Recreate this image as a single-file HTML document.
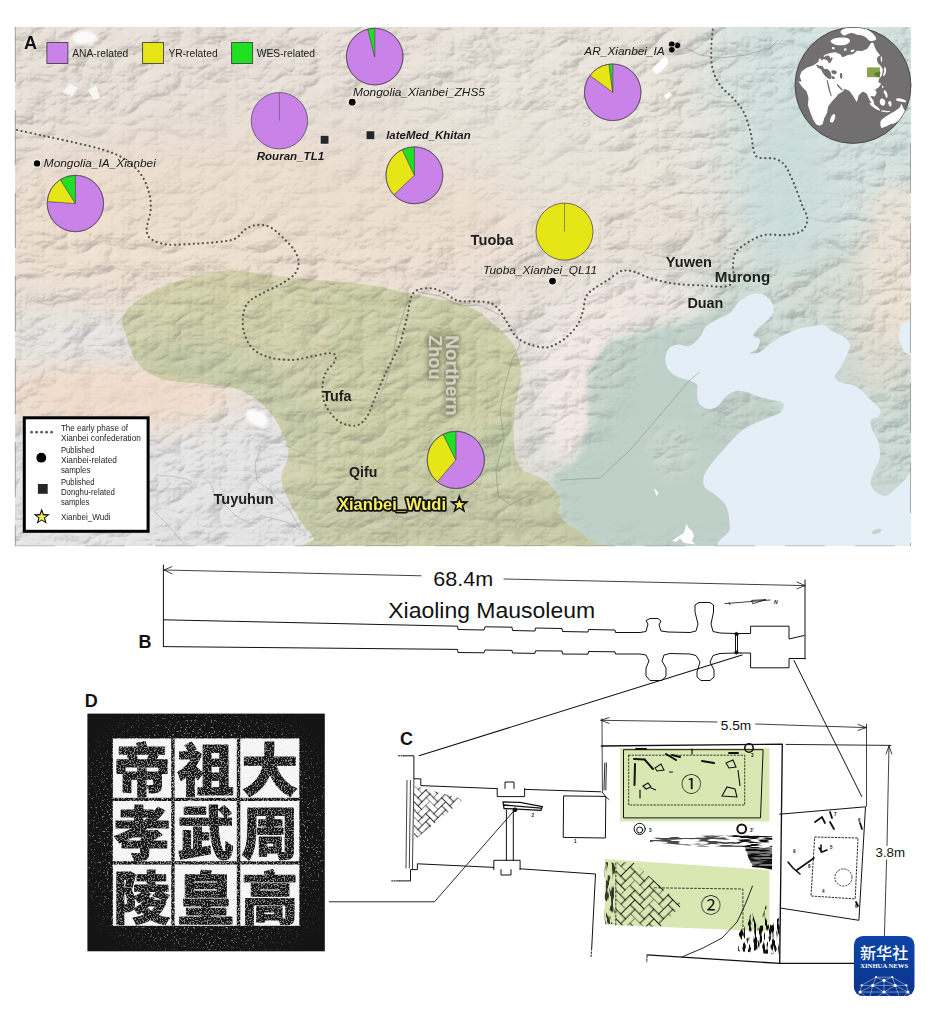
<!DOCTYPE html>
<html lang="en"><head><meta charset="utf-8"><title>Xianbei Wudi figure</title>
<style>
html,body{margin:0;padding:0;background:#fff;}
body{width:934px;height:1016px;position:relative;overflow:hidden;font-family:"Liberation Sans","Noto Sans CJK SC",sans-serif;}
svg{position:absolute;left:0;top:0;display:block}
text{font-family:"Liberation Sans","Noto Sans CJK SC",sans-serif;}
.it{font-style:italic;font-size:11.8px;fill:#1a1a1a}
.bi{font-style:italic;font-weight:bold;font-size:11.6px;fill:#1a1a1a}
.tb{font-weight:bold;font-size:14.5px;fill:#1e1e1e}
.lg{font-size:10.3px;fill:#222}
.ll{font-size:8.2px;fill:#222}
.pl{font-weight:bold;font-size:18px;fill:#111}
</style></head><body>
<svg width="934" height="1016" viewBox="0 0 934 1016">
<defs>
<clipPath id="mc"><rect x="15" y="27" width="896" height="519"/></clipPath>
<filter id="b40" x="-30%" y="-30%" width="160%" height="160%"><feGaussianBlur stdDeviation="28"/></filter>
<filter id="b20" x="-30%" y="-30%" width="160%" height="160%"><feGaussianBlur stdDeviation="14"/></filter>
<filter id="b8" x="-20%" y="-20%" width="140%" height="140%"><feGaussianBlur stdDeviation="6"/></filter>
<filter id="b2" x="-10%" y="-10%" width="120%" height="120%"><feGaussianBlur stdDeviation="1.6"/></filter>
<filter id="relief" x="0" y="0" width="100%" height="100%">
<feTurbulence type="fractalNoise" baseFrequency="0.035 0.06" numOctaves="4" seed="7" result="n"/>
<feDiffuseLighting in="n" surfaceScale="2.2" lighting-color="#fff" result="l"><feDistantLight azimuth="315" elevation="55"/></feDiffuseLighting>
<feColorMatrix in="l" type="matrix" values="1 0 0 0 0  1 0 0 0 0  1 0 0 0 0  0 0 0 1 0"/>
</filter>
</defs>

<defs>
<filter id="rel" x="0" y="0" width="100%" height="100%" color-interpolation-filters="sRGB">
<feTurbulence type="turbulence" baseFrequency="0.022 0.036" numOctaves="5" seed="4" result="n"/>
<feDiffuseLighting in="n" surfaceScale="3.5" diffuseConstant="1" lighting-color="#fff" result="l"><feDistantLight azimuth="225" elevation="45"/></feDiffuseLighting>
<feColorMatrix in="l" type="matrix" values="0 0 0 0 0.35  0 0 0 0 0.36  0 0 0 0 0.38  -2.4 0 0 0 1.70" result="sh"/>
<feColorMatrix in="l" type="matrix" values="0 0 0 0 1  0 0 0 0 1  0 0 0 0 1  3.0 0 0 0 -2.13" result="hi"/>
<feMerge><feMergeNode in="sh"/><feMergeNode in="hi"/></feMerge>
</filter>
<mask id="relm" maskUnits="userSpaceOnUse" x="15" y="27" width="896" height="519">
<rect x="15" y="27" width="896" height="519" fill="#fff"/>
<g filter="url(#b20)" fill="#000">
<ellipse cx="790" cy="185" rx="42" ry="85" opacity="0.8"/>
<path d="M640,345 L700,335 L735,300 L760,320 L700,400 L720,440 L760,420 L790,410 L775,395 L850,340 L870,480 L911,480 L911,546 L570,546 L565,500 L540,480 L590,455 L620,400 Z"/>
<ellipse cx="330" cy="170" rx="300" ry="70" opacity="0.5"/>
<ellipse cx="120" cy="395" rx="95" ry="28" opacity="0.7"/>
</g>
<ellipse cx="672" cy="450" rx="24" ry="26" fill="#fff" opacity="0.8" filter="url(#b8)"/>
</mask>
</defs>
<g clip-path="url(#mc)">
<rect x="15" y="27" width="896" height="519" fill="#e7dfd6"/>
<g filter="url(#b40)">
<ellipse cx="840" cy="130" rx="150" ry="200" fill="#d1e0dd"/>
<ellipse cx="780" cy="420" rx="250" ry="170" fill="#c9d9d3"/>
<ellipse cx="560" cy="150" rx="170" ry="110" fill="#e8e3d9"/>
<ellipse cx="230" cy="225" rx="300" ry="85" fill="#ecddcd"/>
<ellipse cx="640" cy="235" rx="120" ry="40" fill="#ebe0d3" opacity="0.8"/>
</g>
<g filter="url(#b20)">
<ellipse cx="150" cy="500" rx="230" ry="85" fill="#e3e3e3"/>
<ellipse cx="80" cy="340" rx="110" ry="22" fill="#e3e3e1"/>
<ellipse cx="115" cy="398" rx="115" ry="36" fill="#f0dccb"/>
<ellipse cx="290" cy="400" rx="30" ry="40" fill="#e3e3e2" opacity="0.8"/>
<ellipse cx="585" cy="385" rx="52" ry="100" fill="#f2e8e2"/>
<ellipse cx="640" cy="300" rx="70" ry="28" fill="#efe6df"/>
<ellipse cx="880" cy="330" rx="40" ry="70" fill="#dfd9cc" opacity="0.75"/>
<ellipse cx="830" cy="290" rx="60" ry="30" fill="#d6dcd0" opacity="0.7"/>
</g>
<filter id="b3" x="-10%" y="-10%" width="120%" height="120%"><feGaussianBlur stdDeviation="3"/></filter>
<path filter="url(#b3)" fill="#bed0c8" d="M611,340 L640,334 L680,325 L710,317 L735,300 L765,318 L770,400 L790,420 L745,470 L745,552 L590,552 L578,530 L565,522 L559,512 L560,500 L552,486 L556,473 L573,462.5 L580,446 L589.5,420 L587,399 L589.5,368 Z"/>
<ellipse filter="url(#b8)" cx="672" cy="452" rx="28" ry="30" fill="#cddcd5" opacity="0.4"/>
<ellipse filter="url(#b20)" cx="785" cy="190" rx="40" ry="80" fill="#cbdddb"/>
<ellipse filter="url(#b20)" cx="897" cy="265" rx="36" ry="85" fill="#efe2d3" opacity="0.85"/>
<path fill="#c9c99c" fill-opacity="0.80" d="M122.7,319.0 C123.5,313.1 126.5,309.8 132.5,304.7 C138.4,299.6 147.6,293.3 158.4,288.4 C169.2,283.5 185.5,278.5 197.4,275.5 C209.3,272.5 219.1,270.9 229.9,270.6 C240.7,270.3 251.2,272.6 262.0,273.8 C272.8,275.0 281.2,276.6 294.8,278.0 C308.4,279.4 329.3,280.5 343.5,282.0 C357.7,283.5 369.6,285.0 380.0,286.8 C390.4,288.6 397.3,291.1 406.0,293.0 C414.7,294.9 423.3,296.3 432.0,298.0 C440.7,299.7 450.4,300.8 458.0,303.0 C465.6,305.2 471.5,307.5 477.4,311.0 C483.3,314.5 488.2,319.2 493.6,324.0 C499.0,328.8 505.9,334.6 510.0,340.0 C514.1,345.4 516.2,351.1 518.0,356.6 C519.8,362.1 521.0,367.1 521.0,373.0 C521.0,378.9 519.0,385.5 518.0,392.0 C517.0,398.5 515.4,404.4 514.7,412.0 C514.0,419.6 513.6,430.3 513.8,437.8 C514.0,445.3 514.2,451.6 515.7,457.0 C517.2,462.4 519.0,466.7 522.9,470.0 C526.8,473.3 534.1,473.9 539.0,476.7 C543.9,479.4 548.5,482.7 552.0,486.5 C555.5,490.3 558.9,495.2 560.0,499.5 C561.1,503.8 557.8,508.8 558.6,512.5 C559.4,516.2 561.8,519.1 565.0,522.0 C568.2,524.9 574.5,527.3 578.0,530.0 C581.5,532.7 584.0,534.3 586.0,538.0 C588.0,541.7 634.0,549.7 590.0,552.0 C546.0,554.3 368.0,554.3 322.0,552.0 C276.0,549.7 317.4,543.0 314.0,538.0 C310.6,533.0 305.6,528.4 301.3,522.0 C297.0,515.6 291.6,506.0 288.3,499.5 C285.1,493.0 282.6,487.9 281.8,483.0 C281.0,478.1 282.3,474.8 283.4,470.0 C284.5,465.2 288.3,459.9 288.3,454.0 C288.3,448.1 286.1,441.0 283.4,434.5 C280.7,428.0 276.6,420.9 272.0,415.0 C267.4,409.1 261.7,403.1 255.8,398.8 C249.9,394.5 244.5,391.5 236.4,389.0 C228.3,386.5 217.8,385.3 207.0,384.0 C196.2,382.7 181.1,382.9 171.4,381.0 C161.7,379.1 154.6,376.4 148.7,372.9 C142.8,369.4 139.2,365.3 135.7,359.9 C132.2,354.5 129.8,347.2 127.6,340.4 C125.4,333.6 121.9,324.9 122.7,319.0 Z"/>
<clipPath id="olc"><path d="M122.7,319.0 C123.5,313.1 126.5,309.8 132.5,304.7 C138.4,299.6 147.6,293.3 158.4,288.4 C169.2,283.5 185.5,278.5 197.4,275.5 C209.3,272.5 219.1,270.9 229.9,270.6 C240.7,270.3 251.2,272.6 262.0,273.8 C272.8,275.0 281.2,276.6 294.8,278.0 C308.4,279.4 329.3,280.5 343.5,282.0 C357.7,283.5 369.6,285.0 380.0,286.8 C390.4,288.6 397.3,291.1 406.0,293.0 C414.7,294.9 423.3,296.3 432.0,298.0 C440.7,299.7 450.4,300.8 458.0,303.0 C465.6,305.2 471.5,307.5 477.4,311.0 C483.3,314.5 488.2,319.2 493.6,324.0 C499.0,328.8 505.9,334.6 510.0,340.0 C514.1,345.4 516.2,351.1 518.0,356.6 C519.8,362.1 521.0,367.1 521.0,373.0 C521.0,378.9 519.0,385.5 518.0,392.0 C517.0,398.5 515.4,404.4 514.7,412.0 C514.0,419.6 513.6,430.3 513.8,437.8 C514.0,445.3 514.2,451.6 515.7,457.0 C517.2,462.4 519.0,466.7 522.9,470.0 C526.8,473.3 534.1,473.9 539.0,476.7 C543.9,479.4 548.5,482.7 552.0,486.5 C555.5,490.3 558.9,495.2 560.0,499.5 C561.1,503.8 557.8,508.8 558.6,512.5 C559.4,516.2 561.8,519.1 565.0,522.0 C568.2,524.9 574.5,527.3 578.0,530.0 C581.5,532.7 584.0,534.3 586.0,538.0 C588.0,541.7 634.0,549.7 590.0,552.0 C546.0,554.3 368.0,554.3 322.0,552.0 C276.0,549.7 317.4,543.0 314.0,538.0 C310.6,533.0 305.6,528.4 301.3,522.0 C297.0,515.6 291.6,506.0 288.3,499.5 C285.1,493.0 282.6,487.9 281.8,483.0 C281.0,478.1 282.3,474.8 283.4,470.0 C284.5,465.2 288.3,459.9 288.3,454.0 C288.3,448.1 286.1,441.0 283.4,434.5 C280.7,428.0 276.6,420.9 272.0,415.0 C267.4,409.1 261.7,403.1 255.8,398.8 C249.9,394.5 244.5,391.5 236.4,389.0 C228.3,386.5 217.8,385.3 207.0,384.0 C196.2,382.7 181.1,382.9 171.4,381.0 C161.7,379.1 154.6,376.4 148.7,372.9 C142.8,369.4 139.2,365.3 135.7,359.9 C132.2,354.5 129.8,347.2 127.6,340.4 C125.4,333.6 121.9,324.9 122.7,319.0 Z"/></clipPath>
<g clip-path="url(#olc)" filter="url(#b8)" opacity="0.55">
<path d="M135,345 L200,335 L260,360 L300,395 L330,430 L300,460 L280,420 L240,392 L180,380 L140,365 Z" fill="#b9c4a2"/>
<path d="M290,490 L400,485 L560,490 L590,546 L310,546 Z" fill="#bcc4a0"/>
<path d="M470,430 L520,420 L520,480 L480,480 Z" fill="#b7c6a8"/>
<path d="M330,285 L520,300 L530,480 L330,480 Z" fill="#bccb9c" opacity="0.55"/>
</g>
<g mask="url(#relm)"><rect x="15" y="27" width="896" height="519" filter="url(#rel)" opacity="0.29"/></g>
<path fill="#e4eef7" d="M741.9,299.5 C744.4,297.6 747.4,295.2 750.9,294.4 C754.4,293.5 759.4,293.0 762.9,294.4 C766.4,295.7 770.1,299.6 771.9,302.5 C773.6,305.3 774.1,308.5 773.4,311.5 C772.6,314.5 769.9,317.7 767.4,320.5 C764.9,323.2 760.8,325.5 758.4,328.0 C756.1,330.5 753.1,333.5 753.3,335.5 C753.6,337.5 759.3,337.7 759.9,340.0 C760.5,342.2 758.7,346.7 756.9,348.9 C755.2,351.2 748.9,352.9 749.4,353.4 C749.9,353.9 756.7,353.4 759.9,351.9 C763.2,350.4 765.4,346.9 768.9,344.4 C772.4,342.0 776.4,339.5 780.9,337.0 C785.4,334.5 790.9,331.2 795.9,329.5 C800.9,327.7 806.4,327.2 810.9,326.5 C815.4,325.7 819.4,324.2 822.9,325.0 C826.4,325.7 828.3,329.0 831.8,331.0 C835.3,333.0 840.8,334.7 843.8,337.0 C846.8,339.2 849.3,341.5 849.8,344.4 C850.3,347.4 848.3,351.2 846.8,354.9 C845.3,358.7 842.8,363.2 840.8,366.9 C838.8,370.7 834.3,374.7 834.8,377.4 C835.3,380.2 840.8,382.2 843.8,383.4 C846.8,384.7 849.8,383.7 852.8,384.9 C855.8,386.2 858.8,388.4 861.8,390.9 C864.8,393.4 867.8,396.9 870.8,399.9 C873.8,402.9 878.6,406.1 879.8,408.9 C881.1,411.6 879.8,414.6 878.3,416.4 C876.8,418.1 871.8,417.1 870.8,419.4 C869.8,421.6 871.1,426.1 872.3,429.9 C873.6,433.6 877.1,437.4 878.3,441.9 C879.6,446.4 880.6,451.9 879.8,456.9 C879.1,461.9 875.3,467.4 873.8,471.8 C872.3,476.3 870.3,480.3 870.8,483.8 C871.3,487.3 874.3,490.8 876.8,492.8 C879.3,494.8 882.8,496.3 885.8,495.8 C888.8,495.3 891.8,492.3 894.8,489.8 C897.8,487.3 900.8,483.1 903.8,480.8 C906.8,478.6 911.0,464.9 912.8,476.3 C914.5,487.8 944.5,537.5 914.3,549.8 C884.1,562.0 762.2,553.3 731.4,549.8 C700.7,546.3 730.7,535.8 729.9,528.8 C729.2,521.8 729.2,513.3 726.9,507.8 C724.7,502.3 720.2,499.3 716.4,495.8 C712.7,492.3 706.4,490.3 704.4,486.8 C702.5,483.3 703.2,478.8 704.4,474.8 C705.7,470.8 708.9,466.9 711.9,462.9 C714.9,458.9 718.9,454.9 722.4,450.9 C725.9,446.9 729.2,442.6 732.9,438.9 C736.7,435.1 740.4,431.4 744.9,428.4 C749.4,425.4 755.4,422.9 759.9,420.9 C764.4,418.9 768.4,417.9 771.9,416.4 C775.4,414.9 779.0,414.1 780.9,411.9 C782.8,409.6 784.8,404.9 783.3,402.9 C781.8,400.9 775.8,400.9 771.9,399.9 C768.0,398.9 763.9,398.2 759.9,396.9 C755.9,395.7 751.9,393.4 747.9,392.4 C743.9,391.4 739.7,390.2 735.9,390.9 C732.2,391.7 728.4,394.4 725.4,396.9 C722.4,399.4 720.7,403.9 717.9,405.9 C715.2,407.9 711.9,409.1 708.9,408.9 C705.9,408.6 702.0,406.6 700.0,404.4 C698.0,402.2 697.5,398.7 697.0,395.4 C696.5,392.2 698.2,387.4 697.0,384.9 C695.7,382.4 693.0,381.9 689.5,380.4 C686.0,378.9 679.7,378.2 676.0,375.9 C672.2,373.7 668.7,370.2 667.0,366.9 C665.2,363.7 665.0,359.7 665.5,356.4 C666.0,353.2 667.7,349.4 670.0,347.4 C672.2,345.4 675.7,344.7 679.0,344.4 C682.2,344.2 686.0,347.2 689.5,345.9 C693.0,344.7 697.2,340.2 700.0,337.0 C702.7,333.7 702.9,329.5 705.9,326.5 C708.9,323.5 713.9,321.2 717.9,319.0 C721.9,316.7 726.9,315.2 729.9,313.0 C732.9,310.7 733.9,307.7 735.9,305.5 C737.9,303.2 739.4,301.3 741.9,299.5 Z"/>
<ellipse cx="876.6" cy="531.5" rx="5" ry="2.2" transform="rotate(-20 876.6 531.5)" fill="#c4d4cc"/>
<path fill="#e4eef7" d="M900,326 L906,322 L912,321 L912,356 L904,352 L899,340 Z"/>
</g>
<line x1="15.3" y1="27" x2="15.3" y2="546" stroke="#666" stroke-width="0.7" stroke-dasharray="55 28" opacity="0.75"/>
<g fill="none" stroke="#8a8f88" stroke-width="0.7" opacity="0.75" clip-path="url(#mc)">
<path d="M676,52 L686,48 L700,55 L720,58 L745,55 L770,48 L778,40"/>
<path d="M868,27 L872,40 L880,50 L884,62 L895,70 L905,72 L911,80"/>
<path d="M418,292 L440,296 L462,306 L480,305 L500,315 L515,330 L520,345 L512,360 L505,385 L500,410 L504,440 L496,470 L498,495 L510,505 L530,495"/>
<path d="M408,300 L398,330 L392,360 L385,385 L378,398"/>
<path d="M560,480 L600,478 L630,450 L660,415 L690,380 L700,372"/>
<path d="M272,442.8 L259,453.5 L255,464 L257,481 L270,490 L278.5,500.6 L289,509 L300,528.5 L304,532.8" opacity="0.7"/>
<path d="M156.4,475 L170,476 L186.4,479 L191.8,482.4 L189.6,484.6 L182,481.4" opacity="0.7"/>
<path d="M203.5,477 L212,485.7 L214,494 L222,502 L229,509 L235.7,515.6 L250.6,524 L261,515.6 L274,518.8 L287,522 L300,530.6" opacity="0.7"/>
<path d="M154,511 L167,524 L178,537 L184,543.5" opacity="0.7"/>
<path d="M285,445 L297.8,451.4 L312.7,453.5 L327.7,451.4 L334,442.8 L347,440.7 L360,432 L372,420" opacity="0.6"/>
</g>
<g fill="#fdfdfd">
<path d="M651.6,69 L664.7,56.4 L668.4,59.3 L667.5,64.9 L657.2,74.2 L654.4,72.3 Z"/>
<path d="M663.7,95.7 L669.3,92 L672,94.8 L667,99.4 Z"/>
<path d="M245,412 L250,409 L258,410 L265,414 L268.5,421 L266,427 L259,427.5 L251,423 L246,418 Z" filter="url(#b2)" fill="#fbfbfb"/>
<ellipse cx="85" cy="38" rx="12" ry="7" filter="url(#b2)" opacity="0.9"/>
<path d="M62,92 L70,84 L78,88 L72,96 Z M88,90 L96,86 L100,98 L94,100 Z" opacity="0.8"/>
<path d="M654,488 L658.5,492.5 L656.3,496.5 Z M686.5,523.5 L688.5,528 L692,531 L694,536 L692,541 L695.5,544.5 L684,543 L680,538.5 L676,542 L672,541 L678,536.5 L684,533 Z" />
</g>
<path d="M17,130 C21.6,131.0 34.8,133.9 44.5,136 C54.2,138.1 65.7,140.5 75.4,142.8 C85.1,145.1 94.8,147.1 102.8,149.7 C110.8,152.3 117.0,154.2 123.3,158.2 C129.6,162.2 136.2,168.0 140.5,173.7 C144.8,179.4 147.3,186.5 149,192.5 C150.7,198.5 151.0,204.2 150.7,209.6 C150.4,215.0 147.9,221.1 147.3,225 C146.7,228.9 146.2,230.6 147,233 C147.8,235.4 148.5,237.8 152,239.7 C155.5,241.6 160.4,243.9 168,244.6 C175.6,245.2 188.2,244.1 197.4,243.6 C206.6,243.1 216.9,242.3 223.4,241.4 C229.9,240.5 232.8,240.0 236.4,238 C240.0,236.0 241.6,231.7 245,229.5 C248.4,227.3 252.7,225.3 257,225 C261.3,224.7 265.9,225.0 270.6,227.4 C275.3,229.8 281.0,235.8 285,239.7 C289.0,243.6 292.5,247.2 294.8,251 C297.1,254.8 298.7,258.7 298.7,262.5 C298.7,266.3 297.6,270.3 294.8,273.8 C292.0,277.3 287.2,280.4 281.8,283.6 C276.4,286.9 268.0,290.1 262.3,293.3 C256.6,296.5 250.9,298.9 247.7,303 C244.5,307.1 243.4,312.5 242.9,317.7 C242.4,322.9 242.9,328.9 244.5,334 C246.1,339.1 248.5,344.6 252.6,348.5 C256.6,352.4 262.3,355.4 268.8,357.3 C275.3,359.2 284.6,360.0 291.6,359.9 C298.6,359.8 305.1,357.7 311,356.6 C316.9,355.5 323.2,353.7 327.3,353.4 C331.4,353.1 334.3,353.4 335.4,355 C336.5,356.6 335.4,360.0 333.8,363 C332.2,366.0 327.5,368.6 325.6,372.9 C323.7,377.2 322.4,383.6 322.4,389 C322.4,394.4 323.2,400.1 325.6,405.3 C328.0,410.5 332.9,416.6 337,420 C341.1,423.4 346.2,424.8 350,425.5 C353.8,426.2 356.7,425.8 359.7,424 C362.7,422.2 365.2,419.7 367.9,415 C370.6,410.3 373.0,402.6 376,395.6 C379.0,388.6 382.4,379.9 385.7,372.9 C388.9,365.9 392.9,358.8 395.5,353.4 C398.1,348.0 399.0,346.9 401,340.4 C403.0,333.9 406.0,321.5 407.6,314.4 C409.2,307.3 409.2,302.1 410.8,298 C412.4,293.9 413.8,291.6 417.3,290 C420.8,288.4 427.4,287.8 432,288.4 C436.6,288.9 440.7,291.2 445,293.3 C449.3,295.4 453.2,299.5 458,300.8 C462.8,302.1 468.6,301.0 474,301.4 C479.4,301.8 486.1,301.4 490.4,303 C494.7,304.6 497.1,307.5 500,311 C502.9,314.5 505.3,319.7 508,324 C510.7,328.3 512.8,333.6 516.4,337 C520.0,340.4 524.5,342.6 529.4,344.3 C534.3,346.1 541.0,347.6 545.6,347.5 C550.2,347.4 553.2,345.6 557,343.6 C560.8,341.6 564.8,338.8 568.3,335.5 C571.8,332.2 575.5,328.1 578,324 C580.5,319.9 581.7,315.6 583,311 C584.3,306.4 584.1,300.4 586,296.6 C587.9,292.8 590.8,291.1 594.3,288.4 C597.8,285.7 603.0,283.1 607.3,280.3 C611.6,277.5 616.8,273.2 620,271.6 C623.2,270.0 624.4,270.6 626.8,270.6 C629.2,270.6 630.2,270.5 634.3,271.8 C638.4,273.1 644.5,276.6 651.4,278.6 C658.2,280.6 666.8,282.7 675.4,283.8 C684.0,284.9 694.5,285.1 702.8,285.5 C711.1,285.9 719.9,287.4 725,286.5 C730.1,285.6 732.3,283.7 733.6,280.4 C734.9,277.1 732.7,271.2 733,266.6 C733.3,262.0 732.9,257.0 735.3,253 C737.7,249.0 742.4,245.7 747.3,242.7 C752.1,239.7 758.1,236.3 764.4,235 C770.7,233.7 778.7,235.7 785,235 C791.3,234.3 798.3,233.4 802,230.7 C805.7,228.0 807.3,223.0 807.3,218.7 C807.3,214.4 804.3,211.0 802,205 C799.7,199.0 796.4,189.3 793.6,182.7 C790.8,176.1 788.1,169.6 785,165.6 C781.9,161.6 779.0,160.0 774.7,158.7 C770.4,157.4 762.8,158.8 759.3,157.7 C755.8,156.6 755.4,156.1 754,152 C752.6,147.9 752.4,139.6 750.7,133 C749.0,126.4 746.8,118.2 743.9,112.5 C741.0,106.8 737.6,103.4 733.6,98.8 C729.6,94.2 723.5,90.1 720,85 C716.5,79.9 713.9,74.3 712.4,68 C710.9,61.7 711.2,54.2 711.3,47.4 C711.4,40.6 712.7,30.4 713,27" fill="none" stroke="#55554f" stroke-width="2.15" stroke-linecap="round" stroke-dasharray="0.1 4.55"/>
<text x="24" y="48.7" class="pl">A</text>
<rect x="46.9" y="42.5" width="21" height="21" fill="#c982e8" stroke="#444" stroke-width="0.9"/>
<text x="72.2" y="57" class="lg">ANA-related</text>
<rect x="142.6" y="42.5" width="21" height="21" fill="#e6e616" stroke="#444" stroke-width="0.9"/>
<text x="168.4" y="57" class="lg">YR-related</text>
<rect x="231.6" y="42.5" width="21" height="21" fill="#1fe022" stroke="#444" stroke-width="0.9"/>
<text x="256.7" y="57" class="lg">WES-related</text>
<path d="M374.7,56.6 L374.70,28.30 A28.3,28.3 0 1 1 367.85,29.14 Z" fill="#c982e8" stroke="#4a3a50" stroke-width="0.5" stroke-linejoin="round"/>
<path d="M374.7,56.6 L367.85,29.14 A28.3,28.3 0 0 1 374.70,28.30 Z" fill="#1fe022" stroke="#4a3a50" stroke-width="0.5" stroke-linejoin="round"/>
<circle cx="374.7" cy="56.6" r="28.3" fill="none" stroke="#5a4a5e" stroke-width="0.8"/>
<circle cx="279.4" cy="120.7" r="28.2" fill="#c982e8"/>
<circle cx="279.4" cy="120.7" r="28.2" fill="none" stroke="#5a4a5e" stroke-width="0.8"/>
<line x1="279.4" y1="120.7" x2="279.4" y2="92.5" stroke="#5a4a5e" stroke-width="0.6"/>
<path d="M414.4,175.3 L414.40,146.90 A28.4,28.4 0 1 1 393.77,194.81 Z" fill="#c982e8" stroke="#4a3a50" stroke-width="0.5" stroke-linejoin="round"/>
<path d="M414.4,175.3 L393.77,194.81 A28.4,28.4 0 0 1 402.26,149.62 Z" fill="#e6e616" stroke="#4a3a50" stroke-width="0.5" stroke-linejoin="round"/>
<path d="M414.4,175.3 L402.26,149.62 A28.4,28.4 0 0 1 414.40,146.90 Z" fill="#1fe022" stroke="#4a3a50" stroke-width="0.5" stroke-linejoin="round"/>
<circle cx="414.4" cy="175.3" r="28.4" fill="none" stroke="#5a4a5e" stroke-width="0.8"/>
<path d="M75.4,203.5 L75.40,175.30 A28.2,28.2 0 1 1 47.27,201.53 Z" fill="#c982e8" stroke="#4a3a50" stroke-width="0.5" stroke-linejoin="round"/>
<path d="M75.4,203.5 L47.27,201.53 A28.2,28.2 0 0 1 60.46,179.59 Z" fill="#e6e616" stroke="#4a3a50" stroke-width="0.5" stroke-linejoin="round"/>
<path d="M75.4,203.5 L60.46,179.59 A28.2,28.2 0 0 1 75.40,175.30 Z" fill="#1fe022" stroke="#4a3a50" stroke-width="0.5" stroke-linejoin="round"/>
<circle cx="75.4" cy="203.5" r="28.2" fill="none" stroke="#5a4a5e" stroke-width="0.8"/>
<path d="M612.7,92.3 L612.70,64.00 A28.3,28.3 0 1 1 589.98,75.43 Z" fill="#c982e8" stroke="#4a3a50" stroke-width="0.5" stroke-linejoin="round"/>
<path d="M612.7,92.3 L589.98,75.43 A28.3,28.3 0 0 1 608.96,64.25 Z" fill="#e6e616" stroke="#4a3a50" stroke-width="0.5" stroke-linejoin="round"/>
<path d="M612.7,92.3 L608.96,64.25 A28.3,28.3 0 0 1 612.70,64.00 Z" fill="#1fe022" stroke="#4a3a50" stroke-width="0.5" stroke-linejoin="round"/>
<circle cx="612.7" cy="92.3" r="28.3" fill="none" stroke="#5a4a5e" stroke-width="0.8"/>
<circle cx="564.5" cy="231.6" r="28.5" fill="#e6e616"/>
<circle cx="564.5" cy="231.6" r="28.5" fill="none" stroke="#5a4a5e" stroke-width="0.8"/>
<line x1="564.5" y1="231.6" x2="564.5" y2="203.1" stroke="#55551a" stroke-width="0.6"/>
<path d="M455.8,459.9 L455.80,431.30 A28.6,28.6 0 1 1 437.34,481.74 Z" fill="#c982e8" stroke="#4a3a50" stroke-width="0.5" stroke-linejoin="round"/>
<path d="M455.8,459.9 L437.34,481.74 A28.6,28.6 0 0 1 443.08,434.28 Z" fill="#e6e616" stroke="#4a3a50" stroke-width="0.5" stroke-linejoin="round"/>
<path d="M455.8,459.9 L443.08,434.28 A28.6,28.6 0 0 1 455.80,431.30 Z" fill="#1fe022" stroke="#4a3a50" stroke-width="0.5" stroke-linejoin="round"/>
<circle cx="455.8" cy="459.9" r="28.6" fill="none" stroke="#5a4a5e" stroke-width="0.8"/>
<circle cx="352.2" cy="102.2" r="4.3" fill="#fff" opacity="0.85"/><circle cx="352.2" cy="102.2" r="3.4" fill="#000"/>
<circle cx="37" cy="163.4" r="4.1000000000000005" fill="#fff" opacity="0.85"/><circle cx="37" cy="163.4" r="3.2" fill="#000"/>
<circle cx="552.5" cy="281.1" r="4.3" fill="#fff" opacity="0.85"/><circle cx="552.5" cy="281.1" r="3.4" fill="#000"/>
<g stroke="#fff" stroke-width="0.7" fill="#000"><circle cx="677.4" cy="45.4" r="3.3"/><circle cx="671.8" cy="44.3" r="3.3"/><circle cx="671.8" cy="49.8" r="3.3"/></g>
<rect x="320.4" y="135.6" width="8.4" height="8.4" fill="#262626" stroke="#fff" stroke-width="0.6" stroke-opacity="0.7"/>
<rect x="366.2" y="131" width="8.4" height="8.4" fill="#262626" stroke="#fff" stroke-width="0.6" stroke-opacity="0.7"/>
<text x="353" y="96" class="it" textLength="132" lengthAdjust="spacingAndGlyphs">Mongolia_Xianbei_ZHS5</text>
<text x="43.8" y="166.8" class="it" textLength="112" lengthAdjust="spacingAndGlyphs">Mongolia_IA_Xianbei</text>
<text x="584.3" y="55.3" class="it" textLength="80.5" lengthAdjust="spacingAndGlyphs">AR_Xianbei_IA</text>
<text x="483.1" y="273.9" class="it" textLength="114" lengthAdjust="spacingAndGlyphs">Tuoba_Xianbei_QL11</text>
<text x="256.7" y="160" class="bi" textLength="67.5" lengthAdjust="spacingAndGlyphs">Rouran_TL1</text>
<text x="386.2" y="138.8" class="bi" textLength="84.5" lengthAdjust="spacingAndGlyphs">lateMed_Khitan</text>
<text x="470.6" y="244.6" class="tb" textLength="42.8" lengthAdjust="spacingAndGlyphs">Tuoba</text>
<text x="665.8" y="266.7" class="tb" textLength="46.2" lengthAdjust="spacingAndGlyphs">Yuwen</text>
<text x="714.8" y="282" class="tb" textLength="55.5" lengthAdjust="spacingAndGlyphs">Murong</text>
<text x="687.4" y="307.8" class="tb" textLength="36" lengthAdjust="spacingAndGlyphs">Duan</text>
<text x="322.4" y="400.5" class="tb" textLength="29.2" lengthAdjust="spacingAndGlyphs" fill="#2a2a22">Tufa</text>
<text x="349.1" y="476.9" class="tb" textLength="28.3" lengthAdjust="spacingAndGlyphs" fill="#2a2a22">Qifu</text>
<text x="213.6" y="503.7" class="tb" textLength="60" lengthAdjust="spacingAndGlyphs">Tuyuhun</text>
<defs><filter id="glow" x="-20%" y="-50%" width="140%" height="200%"><feGaussianBlur in="SourceAlpha" stdDeviation="2.6" result="b"/><feFlood flood-color="#77775a" flood-opacity="0.95"/><feComposite in2="b" operator="in" result="g"/><feMerge><feMergeNode in="g"/><feMergeNode in="g"/><feMergeNode in="g"/><feMergeNode in="SourceGraphic"/></feMerge></filter></defs>
<g transform="translate(445.9,335.3) rotate(90)" font-weight="bold" font-size="18.6px" fill="#d6d6c6" filter="url(#glow)"><text x="0" y="0" textLength="80.3" lengthAdjust="spacingAndGlyphs">Northern</text><text x="0" y="17.4" textLength="44.2" lengthAdjust="spacingAndGlyphs">Zhou</text></g>
<text x="338" y="510" font-weight="bold" font-size="16.6px" fill="#f6ef63" stroke="#111" stroke-width="3.6" stroke-linejoin="round" paint-order="stroke" textLength="108" lengthAdjust="spacingAndGlyphs">Xianbei_Wudi</text>
<polygon points="459.30,494.10 461.77,501.00 469.10,501.22 463.29,505.70 465.35,512.73 459.30,508.60 453.25,512.73 455.31,505.70 449.50,501.22 456.83,501.00" fill="#111"/>
<polygon points="459.30,499.50 460.65,502.94 464.34,503.16 461.49,505.51 462.42,509.09 459.30,507.10 456.18,509.09 457.11,505.51 454.26,503.16 457.95,502.94" fill="#f4ec55"/>
<rect x="24.3" y="417.8" width="123.8" height="113.5" fill="#fff" stroke="#000" stroke-width="3"/>
<g fill="#5a5a5a"><circle cx="31.6" cy="432.2" r="1.35"/><circle cx="36.6" cy="432.2" r="1.35"/><circle cx="41.6" cy="432.2" r="1.35"/><circle cx="46.6" cy="432.2" r="1.35"/><circle cx="51.6" cy="432.2" r="1.35"/></g>
<circle cx="41.3" cy="457.7" r="4.9" fill="#000"/>
<rect x="37.9" y="484" width="9.8" height="9.8" fill="#262626"/>
<polygon points="41.70,508.30 43.76,514.07 49.88,514.24 45.03,517.98 46.75,523.86 41.70,520.40 36.65,523.86 38.37,517.98 33.52,514.24 39.64,514.07" fill="#111"/>
<polygon points="41.70,511.70 43.05,515.24 46.84,515.43 43.89,517.81 44.87,521.47 41.70,519.40 38.53,521.47 39.51,517.81 36.56,515.43 40.35,515.24" fill="#f4ec55"/>
<text x="60.9" y="430.8" class="ll" textLength="67" lengthAdjust="spacingAndGlyphs">The early phase of</text>
<text x="60.9" y="440.8" class="ll" textLength="80" lengthAdjust="spacingAndGlyphs">Xianbei confederation</text>
<text x="60.9" y="452.8" class="ll" textLength="33.5" lengthAdjust="spacingAndGlyphs">Published</text>
<text x="60.9" y="462.9" class="ll" textLength="56" lengthAdjust="spacingAndGlyphs">Xianbei-related</text>
<text x="60.9" y="472.5" class="ll" textLength="29.5" lengthAdjust="spacingAndGlyphs">samples</text>
<text x="60.9" y="484.8" class="ll" textLength="33.5" lengthAdjust="spacingAndGlyphs">Published</text>
<text x="60.9" y="495" class="ll" textLength="54" lengthAdjust="spacingAndGlyphs">Donghu-related</text>
<text x="60.9" y="504.5" class="ll" textLength="28.5" lengthAdjust="spacingAndGlyphs">samples</text>
<text x="60.9" y="519.6" class="ll" textLength="49.5" lengthAdjust="spacingAndGlyphs">Xianbei_Wudi</text>
<g>
<clipPath id="gc"><circle cx="853" cy="85.4" r="57.7"/></clipPath>
<circle cx="853" cy="85.4" r="58" fill="#716f6f" stroke="#3a3a3a" stroke-width="0.8"/>
<g clip-path="url(#gc)" fill="#fff">
<path d="M801.6,81.6 L799.7,76.5 L801.6,71.5 L806.6,67.7 L813.0,65.4 L815.5,63.9 L818.6,61.6 L821.2,60.9 L823.7,59.1 L826.6,59.9 L828.4,61.6 L830.6,59.1 L829.6,56.3 L827.1,55.3 L824.3,57.1 L823.3,56.1 L826.6,54.0 L831.9,52.8 L835.7,52.3 L840.5,54.6 L842.3,57.3 L845.2,56.3 L847.1,55.3 L853.4,54.0 L856.9,50.8 L862.2,51.0 L867.3,48.7 L869.8,45.0 L871.3,42.7 L873.3,42.7 L874.9,47.5 L876.8,51.3 L880.2,55.3 L877.6,57.1 L876.8,59.1 L877.9,62.9 L881.2,66.4 L882.9,69.6 L882.4,73.0 L881.2,76.5 L878.9,79.1 L878.4,82.2 L881.2,83.8 L878.6,87.6 L875.1,89.6 L876.8,92.6 L874.9,96.4 L871.3,95.9 L873.0,99.0 L874.9,107.0 L870.6,101.7 L868.5,97.7 L866.6,93.4 L864.8,92.6 L862.9,91.4 L858.7,95.2 L856.8,102.2 L853.4,96.4 L849.6,90.9 L844.5,88.8 L843.5,90.9 L837.0,94.9 L831.9,95.9 L837.2,94.2 L837.7,94.9 L836.3,96.7 L831.9,101.5 L828.1,106.5 L827.1,112.8 L824.3,117.9 L822.6,124.2 L819.3,125.7 L816.1,124.2 L813.0,119.2 L810.4,112.8 L807.9,105.3 L808.5,97.7 L806.6,91.4 L801.6,86.3 L798.5,81.5 Z"/>
<path d="M840.7,31.3 C841.3,30.4 842.4,29.2 844.5,28.5 C846.6,27.9 850.0,27.3 853.4,27.3 C856.8,27.3 861.8,27.7 864.8,28.5 C867.7,29.4 869.5,30.8 871.3,32.3 C873.2,33.8 875.2,36.1 875.9,37.4 C876.5,38.7 876.1,39.6 875.1,40.2 C874.1,40.7 871.2,41.2 869.8,40.9 C868.4,40.6 867.9,39.0 866.6,38.1 C865.4,37.2 863.8,36.1 862.2,35.6 C860.6,35.1 858.9,35.3 857.2,34.8 C855.5,34.4 853.6,33.2 852.1,33.1 C850.6,32.9 849.6,33.4 848.3,33.8 C847.1,34.3 845.7,35.6 844.5,35.6 C843.4,35.6 842.1,34.5 841.5,33.8 C840.9,33.1 840.2,32.2 840.7,31.3 Z"/>
<path d="M830.6,41.2 C830.8,40.3 832.5,39.0 834.4,38.4 C836.3,37.8 839.7,37.6 842.0,37.6 C844.3,37.7 847.0,37.9 848.3,38.6 C849.6,39.3 850.3,40.8 849.8,41.8 C849.4,42.8 847.7,44.1 845.8,44.7 C843.9,45.3 840.3,45.4 838.2,45.2 C836.1,45.0 834.4,44.4 833.2,43.7 C831.9,43.0 830.4,42.0 830.6,41.2 Z"/>
<path d="M831.7,47.7 C831.7,47.3 832.9,46.9 833.4,47.0 C833.9,47.1 834.7,47.8 834.7,48.2 C834.6,48.7 833.7,49.6 833.2,49.5 C832.7,49.4 831.6,48.2 831.7,47.7 Z"/>
<path d="M843.9,49.0 C844.1,48.6 845.4,48.1 845.8,48.2 C846.2,48.4 846.7,49.6 846.6,50.0 C846.4,50.4 845.2,50.9 844.8,50.8 C844.3,50.6 843.7,49.4 843.9,49.0 Z"/>
<path d="M850.6,50.8 C850.9,50.3 852.7,49.5 853.4,49.5 C854.0,49.5 854.7,50.3 854.4,50.8 C854.1,51.2 852.2,52.3 851.6,52.3 C851.0,52.3 850.3,51.2 850.6,50.8 Z"/>
<path d="M818.8,59.6 C819.1,59.1 820.1,58.4 820.5,58.6 C821.0,58.8 821.6,60.2 821.5,60.9 C821.5,61.6 820.7,62.7 820.3,62.9 C819.8,63.1 819.0,62.4 818.8,61.9 C818.5,61.3 818.5,60.2 818.8,59.6 Z"/>
<path d="M884.5,66.7 C884.8,66.7 885.8,67.9 886.0,69.0 C886.2,70.0 886.1,71.8 885.7,73.0 C885.4,74.2 884.4,75.7 884.0,76.0 C883.5,76.4 882.9,75.7 882.9,75.0 C883.0,74.3 884.0,73.0 884.2,72.0 C884.4,71.0 883.9,69.8 884.0,69.0 C884.0,68.1 884.1,66.7 884.5,66.7 Z"/>
<path d="M881.2,55.8 C881.4,55.8 882.1,58.0 882.2,59.1 C882.3,60.2 881.9,62.6 881.7,62.6 C881.4,62.6 880.8,60.2 880.7,59.1 C880.6,58.0 880.9,55.8 881.2,55.8 Z"/>
<path d="M882.4,85.6 C882.7,85.6 883.4,86.6 883.5,87.1 C883.5,87.5 882.9,88.4 882.7,88.3 C882.4,88.3 882.0,87.3 881.9,86.8 C881.9,86.4 882.2,85.5 882.4,85.6 Z"/>
<path d="M884.0,90.4 C884.3,90.1 885.6,90.4 886.2,91.4 C886.9,92.3 887.7,95.1 887.7,96.2 C887.7,97.2 886.7,97.9 886.2,97.7 C885.8,97.5 885.6,95.7 885.2,94.9 C884.8,94.2 884.2,93.9 884.0,93.1 C883.7,92.4 883.6,90.7 884.0,90.4 Z"/>
<path d="M880.2,99.7 C880.7,99.0 882.1,98.4 882.9,98.7 C883.8,99.0 885.0,100.2 885.2,101.2 C885.5,102.3 885.1,104.3 884.5,105.0 C883.9,105.7 882.4,105.6 881.7,105.3 C880.9,104.9 880.2,103.7 879.9,102.7 C879.7,101.8 879.7,100.4 880.2,99.7 Z"/>
<path d="M869.8,102.7 C870.1,102.5 871.3,102.8 872.6,103.5 C873.8,104.2 876.1,105.9 877.4,107.0 C878.6,108.1 880.0,109.5 880.2,110.1 C880.3,110.6 879.4,110.7 878.4,110.3 C877.4,110.0 875.7,108.9 874.4,108.0 C873.0,107.2 871.3,105.9 870.6,105.0 C869.8,104.1 869.5,103.0 869.8,102.7 Z"/>
<path d="M881.2,110.6 C881.8,110.4 884.7,110.7 886.2,110.8 C887.7,111.0 890.1,111.3 890.3,111.6 C890.5,111.8 888.8,112.3 887.5,112.3 C886.2,112.4 883.5,112.1 882.4,111.8 C881.4,111.5 880.5,110.7 881.2,110.6 Z"/>
<path d="M888.3,101.7 C888.6,101.2 890.2,101.0 890.8,101.5 C891.3,102.0 891.6,103.9 891.5,104.8 C891.5,105.6 890.7,106.8 890.3,106.8 C889.8,106.8 889.1,105.6 888.8,104.8 C888.4,103.9 887.9,102.3 888.3,101.7 Z"/>
<path d="M896.1,99.0 C896.5,98.5 898.6,98.2 900.1,98.4 C901.6,98.7 904.3,99.6 905.2,100.2 C906.1,100.8 906.3,102.0 905.7,102.2 C905.1,102.5 902.8,101.9 901.4,101.7 C900.0,101.5 898.2,101.4 897.3,101.0 C896.5,100.5 895.6,99.4 896.1,99.0 Z"/>
<path d="M881.2,127.5 C880.5,126.5 879.9,122.7 880.9,120.7 C882.0,118.7 885.1,117.0 887.5,115.4 C889.9,113.8 893.0,112.4 895.1,111.1 C897.1,109.7 898.8,108.5 899.9,107.3 C900.9,106.1 900.8,103.8 901.4,104.0 C902.0,104.3 902.9,107.4 903.7,108.8 C904.4,110.2 906.2,110.9 905.7,112.6 C905.1,114.3 902.1,117.4 900.4,119.2 C898.6,120.9 896.8,122.1 895.1,123.0 C893.3,123.8 891.7,123.8 890.0,124.5 C888.4,125.1 886.7,126.2 885.2,126.7 C883.7,127.3 881.9,128.5 881.2,127.5 Z"/>
<path d="M830.0,120.4 C830.1,119.3 831.2,116.7 831.9,115.6 C832.6,114.6 833.9,113.8 834.4,114.1 C835.0,114.4 835.4,116.1 835.2,117.4 C835.0,118.7 833.9,120.9 833.3,121.7 C832.6,122.5 831.8,122.7 831.3,122.5 C830.7,122.2 829.9,121.6 830.0,120.4 Z"/>
</g>
<g clip-path="url(#gc)" fill="#716f6f">
<path d="M816.2,64.7 C816.4,64.3 818.2,65.4 819.3,65.7 C820.3,65.9 821.7,65.6 822.6,66.2 C823.4,66.7 823.6,68.5 824.3,69.0 C825.1,69.4 826.1,68.5 827.1,69.0 C828.1,69.4 829.4,70.6 830.1,71.7 C830.8,72.8 831.3,74.3 831.4,75.5 C831.5,76.7 831.5,78.3 830.9,78.8 C830.3,79.3 828.8,78.8 827.9,78.3 C826.9,77.8 825.9,76.9 825.1,76.0 C824.2,75.1 823.5,74.1 822.8,73.0 C822.1,71.9 821.8,70.3 821.0,69.5 C820.2,68.6 818.8,68.5 818.0,67.7 C817.2,66.9 816.0,65.0 816.2,64.7 Z"/>
<path d="M831.4,71.0 C831.7,70.4 833.3,70.1 834.2,70.2 C835.1,70.3 836.5,71.1 836.7,71.7 C837.0,72.4 836.4,73.7 835.7,74.0 C835.0,74.3 833.4,74.3 832.7,73.8 C831.9,73.3 831.1,71.6 831.4,71.0 Z"/>
<path d="M840.0,73.5 C840.2,72.8 841.4,72.8 841.8,73.3 C842.1,73.7 842.3,75.4 842.3,76.3 C842.3,77.2 842.1,78.6 841.8,78.8 C841.4,79.0 840.5,78.4 840.2,77.5 C839.9,76.7 839.7,74.2 840.0,73.5 Z"/>
<path d="M831.9,76.3 C832.4,76.0 834.3,76.6 834.7,77.0 C835.1,77.5 834.6,78.8 834.2,79.1 C833.7,79.3 832.3,79.0 831.9,78.6 C831.5,78.1 831.4,76.5 831.9,76.3 Z"/>
<path d="M827.6,80.0 L828.9,85.1 L830.6,92.1 L831.9,96.2 L830.9,96.2 L829.1,91.4 L827.6,85.6 L826.6,80.8 Z"/>
<path d="M836.7,83.8 L838.5,85.1 L841.0,87.8 L843.3,90.6 L841.8,90.4 L839.0,87.8 L837.0,85.6 Z"/>
<path d="M828.1,61.9 C828.2,61.2 829.6,59.8 830.1,59.1 C830.7,58.4 831.0,57.7 831.4,57.6 C831.8,57.5 832.6,57.9 832.7,58.3 C832.7,58.8 832.1,59.6 831.7,60.4 C831.2,61.1 830.5,62.6 829.9,62.9 C829.3,63.1 828.1,62.5 828.1,61.9 Z"/>
<path d="M870.6,96.2 C870.6,95.8 872.1,96.3 872.6,96.9 C873.1,97.6 873.6,99.6 873.6,100.0 C873.6,100.3 872.8,99.6 872.3,99.0 C871.8,98.3 870.5,96.5 870.6,96.2 Z"/>
<path d="M877.9,71.5 C878.1,70.9 879.0,70.2 879.4,70.5 C879.8,70.7 880.5,72.2 880.4,73.0 C880.4,73.8 879.5,74.9 879.2,75.0 C878.8,75.1 878.4,74.3 878.1,73.8 C877.9,73.2 877.7,72.0 877.9,71.5 Z"/>
</g>
<rect x="867" y="67.4" width="12.9" height="9.8" fill="#8aa24a"/>
<path d="M873.5,73.6 L879.9,71.2 L879.9,77.2 L877.2,77.2 Z" fill="#5f7a35"/>
</g>
<line x1="910.6" y1="143" x2="910.6" y2="546" stroke="#777" stroke-width="0.8" stroke-dasharray="50 30" opacity="0.8"/>
<line x1="15" y1="545.8" x2="911" y2="545.8" stroke="#888" stroke-width="0.7" stroke-dasharray="40 30" opacity="0.7"/>
<g fill="none" stroke="#111" stroke-width="1" stroke-linejoin="round" stroke-linecap="round">
<path d="M163.4,565 L163.4,646.6"/>
<path d="M164,570 L421,575.8 M164,570 L172,566.6 M164,570 L172,573.8" stroke-width="0.8"/>
<path d="M504,579 L805,585.6 M805,585.6 L797,582 M805,585.6 L797,588.8" stroke-width="0.8"/>
<path d="M805,580 L805,659"/>
<path d="M163.4,619.8 L457.6,626.2 L458,629.5 L484,630 L485,626.8 L512,627.2 L512.5,630.5 L535,631 L535.5,628 L562,628.5 L562.5,631.5 L588,632 L588.5,629.5 L615,630 L615.5,632.5 L640,632.5 L646,631.5 L648,624 L646,620.5 L650,618.5 L658,618.5 L661,621 L659,625 L661,631 L668,632 L690,632.5 L696,631 L698,624 L695,612 L695,605 L699,602.5 L710,602.5 L713.5,605 L713.5,612 L711,624 L713,631.5 L720,633 L735,633.5"/>
<path d="M163.4,646.6 L457.6,649.4 L458,652.5 L484,652.8 L485,650 L512,650.4 L512.5,653 L535,653.4 L535.5,650.8 L562,651 L562.5,654 L588,654.2 L588.5,651.5 L615,651.8 L615.5,654 L640,654 L646,655 L649,661 L646,668 L646,676 L650,680.5 L662,680.5 L666,676 L666,668 L662,661 L664,655 L670,653.5 L690,654 L696,655.5 L700,662 L697,672 L697,677 L701,680.5 L710,680.5 L714,677 L714,670 L710,662 L713,655.5 L720,653.5 L735,653"/>
<path d="M735,633.5 L741,633.5 M735,653 L741,653 M735.5,633.5 L735.5,653 M737.5,633.5 L737.5,653"/>
<circle cx="736.5" cy="634" r="1.6" fill="#111"/><circle cx="736.5" cy="652.5" r="1.6" fill="#111"/>
<path d="M741,633.5 L750.6,633.5 L750.6,626.2 L789,626.2 L789,639 L804,635.5 M741,653 L750.6,653 L750.6,667.8 L789,667.8 L789,658.5 L805,658.5"/>
<path d="M725,603.6 L770,600 M752,600.4 L766,599.6 L753,603.6 Z M729,602.4 L730,604.6" stroke-width="0.8"/>
<path d="M742,655 L419,755.8" stroke-width="1.1"/>
<path d="M794,660.5 L861.7,796.5" stroke-width="1"/>
</g>
<text x="774" y="604" font-size="5px" font-weight="bold" font-style="italic" fill="#111">N</text>
<text x="433.2" y="585.5" font-size="20.5px" fill="#111" textLength="60" lengthAdjust="spacingAndGlyphs">68.4m</text>
<text x="388.2" y="617.7" font-size="21.6px" fill="#111" textLength="207" lengthAdjust="spacingAndGlyphs">Xiaoling Mausoleum</text>
<text x="138.4" y="647.6" class="pl">B</text>
<text x="400" y="744.6" class="pl">C</text>
<text x="84.8" y="707" class="pl">D</text>
<defs>
<pattern id="hb" width="22.40" height="22.40" patternUnits="userSpaceOnUse" patternTransform="translate(414,786) rotate(45)"><path d="M0.00,5.60 H5.60 M5.60,5.60 V11.20 M5.60,11.20 V16.80 M0.00,16.80 H5.60 M5.60,16.80 V22.40 M0.00,22.40 H5.60 M11.20,0.00 V5.60 M5.60,5.60 H11.20 M5.60,11.20 H11.20 M11.20,11.20 V16.80 M11.20,16.80 V22.40 M5.60,22.40 H11.20 M16.80,0.00 V5.60 M11.20,5.60 H16.80 M16.80,5.60 V11.20 M11.20,11.20 H16.80 M11.20,16.80 H16.80 M16.80,16.80 V22.40 M22.40,0.00 V5.60 M22.40,5.60 V11.20 M16.80,11.20 H22.40 M22.40,11.20 V16.80 M16.80,16.80 H22.40 M16.80,22.40 H22.40" fill="none" stroke="#111" stroke-width="0.85" stroke-linecap="square"/></pattern>
<pattern id="hb2" width="26.80" height="26.80" patternUnits="userSpaceOnUse" patternTransform="translate(616,862) rotate(45)"><path d="M0.00,6.70 H6.70 M6.70,6.70 V13.40 M6.70,13.40 V20.10 M0.00,20.10 H6.70 M6.70,20.10 V26.80 M0.00,26.80 H6.70 M13.40,0.00 V6.70 M6.70,6.70 H13.40 M6.70,13.40 H13.40 M13.40,13.40 V20.10 M13.40,20.10 V26.80 M6.70,26.80 H13.40 M20.10,0.00 V6.70 M13.40,6.70 H20.10 M20.10,6.70 V13.40 M13.40,13.40 H20.10 M13.40,20.10 H20.10 M20.10,20.10 V26.80 M26.80,0.00 V6.70 M26.80,6.70 V13.40 M20.10,13.40 H26.80 M26.80,13.40 V20.10 M20.10,20.10 H26.80 M20.10,26.80 H26.80" fill="none" stroke="#111" stroke-width="0.9" stroke-linecap="square"/></pattern>
<filter id="rough" x="-5%" y="-5%" width="110%" height="110%"><feTurbulence type="fractalNoise" baseFrequency="0.35 0.08" numOctaves="2" seed="3" result="t"/><feColorMatrix in="t" type="matrix" values="0 0 0 0 0  0 0 0 0 0  0 0 0 0 0  0 0 0 -9 4.6" result="m"/><feComposite in="SourceGraphic" in2="m" operator="in"/></filter>
<filter id="roughh" x="-5%" y="-5%" width="110%" height="110%"><feTurbulence type="fractalNoise" baseFrequency="0.05 0.5" numOctaves="2" seed="8" result="t"/><feColorMatrix in="t" type="matrix" values="0 0 0 0 0  0 0 0 0 0  0 0 0 0 0  0 0 0 -9 4.9" result="m"/><feComposite in="SourceGraphic" in2="m" operator="in"/></filter>
</defs>
<path d="M620.2,747.9 L769.4,747.9 L769.4,821.5 L620.2,821.5 Z" fill="#d9e8b2"/>
<path d="M604.7,859.1 L769.4,870.2 L769.4,931.3 L604.7,924.7 Z" fill="#d9e8b2"/>
<g fill="none" stroke="#111" stroke-width="1" stroke-linejoin="round" stroke-linecap="round">
<path d="M398.5,755.8 L403.7,755.8" stroke-dasharray="1.2 1.2"/>
<path d="M403.7,755.8 L413.9,755.8 L413.9,778.8 L420.8,778.8 L420.8,785.6 L497,788.6"/>
<path d="M524.6,789.4 L600.6,791.8"/>
<path d="M391.7,880.9 L399,880.9" stroke-dasharray="1.2 1.2"/>
<path d="M399,880.9 L410.5,880.9 L410.5,869.6 L417.4,869.6 L417.4,863.8 L493.8,867.4 M520.1,868.8 L595.5,874 L591.6,950"/>
<path d="M591.4,952 L591,957" stroke-dasharray="1.5 1.5"/>
<path d="M407,780.5 L406,868 M410.5,780.5 L409.3,868 M413.9,778.8 L412.4,869" stroke-width="0.8"/>
<path d="M414,785.8 L463.6,799.3 L414,840.5 Z" fill="url(#hb)" stroke="none"/>
<path d="M497.2,788.4 L497.2,796.6 L524.6,796.6 L524.6,788.4 M505,788.4 L505,782 L514,782 L514,788.4" />
<path d="M493.8,869.6 L493.8,860.3 L520.1,860.3 L520.1,869.6 M501,869.6 L501,875 L511,875 L511,869.6"/>
<path d="M506.4,810 L506.4,860.3 M513.3,810 L513.3,860.3"/>
<path d="M503,802 L520,802.4 L542.4,806.6 L541,810.3 L504,808.5 Z M504,805 L541,808.2" stroke-width="1.3"/>
<circle cx="515" cy="809.8" r="1.9" fill="#111"/>
<path d="M564,795.9 L605.8,796.4 L605.4,838 L563.6,837.4 Z"/>
<path d="M329.3,901.8 L434.5,901.8 L515,809.6" stroke-width="0.9"/>
<path d="M602,718.8 L602.4,792.5 M601,720.3 L717,722 M601,720.3 L609,717.6 M601,720.3 L609,723.4 M755.7,724 L866.2,727.6 M866.2,727.6 L858,724.4 M866.2,727.6 L858,730.4 M866.5,724 L866.5,806.3" stroke-width="0.8"/>
<path d="M602.4,792.5 L606,797 L609,799.5 M604.8,763 L604,790 M606.4,763 L605.8,790" stroke-width="0.9"/>
<path d="M601.4,746 L782.3,744.2 L779.7,963.4 M647.1,954.9 L779.7,963.4 L855,963.4" stroke-width="1.35"/>
<path d="M786,744.4 L891,745.4" stroke-width="0.9"/>
<path d="M647,956 L646.8,962" stroke-dasharray="1.5 1.5"/>
<path d="M889,746 L887,845.5 M886.6,860 L884.4,936 M889,746 L886,754 M889,746 L891.8,754" stroke-width="0.8"/>
<path d="M623.9,749.7 L763.1,749.7 L760.5,817.9 L623.9,817.9 Z" stroke-width="1"/>
<path d="M628.7,755.2 L744.7,755.2 L744.7,805 L628.7,805 Z" stroke-width="0.8" stroke-dasharray="1.6 1.8"/>
<path d="M654.5,887.8 L742.9,889 L742.9,930" stroke-width="0.8" stroke-dasharray="2 2"/>
<path d="M615.8,863 L615.8,925" stroke-width="0.8" stroke-dasharray="2 2"/>
<path d="M752.5,886 L745,905 L737,922 L722,938 L703,948 L682,957" stroke-width="0.9"/>
<circle cx="639.7" cy="828.9" r="5.6"/><circle cx="639.7" cy="830" r="3"/><circle cx="741.7" cy="828.9" r="4.4" stroke-width="2"/>
<path d="M779.7,814.2 L865.5,806.8 L858.9,920.3 L780.8,908.1"/>
<path d="M814.7,837 L858,838 L855.2,898.9 L811,896 Z" stroke-width="0.9" stroke-dasharray="1.6 1.8"/>
<circle cx="843.4" cy="877.5" r="8.6" stroke-width="0.8" stroke-dasharray="1.4 1.8"/>
</g>
<path d="M615.8,862 L634,863 L682,905 L660,927 L615.8,925 Z" fill="url(#hb2)"/>
<g fill="#111">
<path filter="url(#roughh)" d="M724,834 L772.3,836.3 L772,869.4 L752,867 L744.7,848 Z"/>
<path d="M744.7,847 L772,848 L772,869 L753,867 Z" opacity="0.55"/>
<path filter="url(#roughh)" d="M650,838 L722,835 L744,847 L700,846.5 L650,842 Z" opacity="0.75"/>
<path filter="url(#rough)" d="M738,935 L752,912 L758,930 L766,905 L770,925 L779.7,917 L779.7,955 L737,951 Z"/>
<path filter="url(#rough)" d="M604.7,862 L615,863 L615,924 L604.7,924 Z" opacity="0.8"/>
</g>
<g fill="none" stroke="#111" stroke-width="2" stroke-linecap="round">
<path d="M636,749 L646,749 M634,759 L645,759.5 M645,760 L653,769 M666,754 L676,760 M672,755 L680,757 M702,761 L714,763 M729,753 L738,753 M635,764 L634.5,785"/>
<path d="M640,798 L640,790 M692,749 L692,754" stroke-width="1.2"/>
</g>
<g fill="none" stroke="#111" stroke-width="1.1">
<path d="M655,768 L661,764 L664,770 L657,771 Z M669,772 L673,772 M643,786 L648,783 L651,787 L646,789 Z M651,788 L656,790 M726,763 L733,760 L736,767 L729,768 Z M722,796 L727,787 L735,789 L737,797 Z M738,770 L740,786" />
<circle cx="749" cy="748" r="4.2" stroke-width="1.6"/>
</g>
<g fill="none" stroke="#111" stroke-width="1.6" stroke-linecap="round">
<path d="M797,870 L814,858 M788,862 L793,868 L800,874 M819,848 L822,852 L827,850 M821,845 L821,852" />
<path d="M815,822 L822,817 L825,823 M830,822 L834,829 M860,823 L862,829 M856,902 L858,906 M832,818 L830,812" stroke-width="1.8"/>
</g>
<text x="720.8" y="729.5" font-size="13px" fill="#111" textLength="30.5" lengthAdjust="spacingAndGlyphs">5.5m</text>
<text x="875.5" y="856.5" font-size="13px" fill="#111" textLength="29.5" lengthAdjust="spacingAndGlyphs">3.8m</text>
<text x="691.3" y="791.6" font-size="20.5px" fill="#111" text-anchor="middle" font-family="'Liberation Sans','DejaVu Sans','Noto Sans CJK SC',sans-serif">①</text>
<text x="710.8" y="913.4" font-size="20.5px" fill="#111" text-anchor="middle" font-family="'Liberation Sans','DejaVu Sans','Noto Sans CJK SC',sans-serif">②</text>
<g font-size="4.5px" font-weight="bold" fill="#111"><text x="531.5" y="816.5">2</text><text x="574" y="843">1</text><text x="649" y="832">3</text><text x="750" y="832">3'</text><text x="751" y="757">3</text><text x="822" y="893">4</text><text x="830" y="849">5</text><text x="808" y="868">8</text><text x="855" y="908">6</text><text x="858" y="822">6</text><text x="834" y="816">7</text><text x="793" y="853">9</text></g>
<defs>
<filter id="speck" x="0" y="0" width="100%" height="100%"><feTurbulence type="fractalNoise" baseFrequency="0.55" numOctaves="3" seed="11" result="t"/><feColorMatrix in="t" type="matrix" values="0 0 0 0 1  0 0 0 0 1  0 0 0 0 1  0 0 0 7 -4.3"/></filter>
<filter id="speck2" x="0" y="0" width="100%" height="100%"><feTurbulence type="fractalNoise" baseFrequency="0.7" numOctaves="2" seed="5" result="t"/><feColorMatrix in="t" type="matrix" values="0 0 0 0 1  0 0 0 0 1  0 0 0 0 1  0 0 0 9 -4.6"/></filter>
<radialGradient id="dg" cx="50%" cy="50%" r="50%"><stop offset="0.55" stop-color="#fff" stop-opacity="1"/><stop offset="1" stop-color="#fff" stop-opacity="0"/></radialGradient>
<mask id="dm"><ellipse cx="206" cy="832" rx="150" ry="150" fill="url(#dg)"/></mask>
<clipPath id="dclip"><rect x="87.4" y="713.6" width="237.4" height="237.7"/></clipPath>
</defs>
<rect x="87.4" y="713.6" width="237.4" height="237.7" fill="#141414"/>
<g clip-path="url(#dclip)"><rect x="87.4" y="713.6" width="237.4" height="237.7" filter="url(#speck)" mask="url(#dm)" opacity="0.68"/></g>
<rect x="112.9" y="738.5" width="58.3" height="59.3" fill="#f4f4f4"/>
<text x="142.1" y="790.8" text-anchor="middle" font-size="57px" font-weight="900" fill="#161616" stroke="#161616" stroke-width="0.9" stroke-linejoin="round" style="font-family:'Liberation Sans','Noto Sans CJK SC','Noto Sans CJK JP',sans-serif">帝</text>
<rect x="174.6" y="738.5" width="62.2" height="59.3" fill="#f4f4f4"/>
<text x="205.7" y="790.8" text-anchor="middle" font-size="57px" font-weight="900" fill="#161616" stroke="#161616" stroke-width="0.9" stroke-linejoin="round" style="font-family:'Liberation Sans','Noto Sans CJK SC','Noto Sans CJK JP',sans-serif">祖</text>
<rect x="240.3" y="738.5" width="59.0" height="59.3" fill="#f4f4f4"/>
<text x="269.8" y="790.8" text-anchor="middle" font-size="57px" font-weight="900" fill="#161616" stroke="#161616" stroke-width="0.9" stroke-linejoin="round" style="font-family:'Liberation Sans','Noto Sans CJK SC','Noto Sans CJK JP',sans-serif">大</text>
<rect x="112.9" y="801.0" width="58.3" height="60.2" fill="#f4f4f4"/>
<text x="142.1" y="854.2" text-anchor="middle" font-size="57px" font-weight="900" fill="#161616" stroke="#161616" stroke-width="0.9" stroke-linejoin="round" style="font-family:'Liberation Sans','Noto Sans CJK SC','Noto Sans CJK JP',sans-serif">孝</text>
<rect x="174.6" y="801.0" width="62.2" height="60.2" fill="#f4f4f4"/>
<text x="205.7" y="854.2" text-anchor="middle" font-size="57px" font-weight="900" fill="#161616" stroke="#161616" stroke-width="0.9" stroke-linejoin="round" style="font-family:'Liberation Sans','Noto Sans CJK SC','Noto Sans CJK JP',sans-serif">武</text>
<rect x="240.3" y="801.0" width="59.0" height="60.2" fill="#f4f4f4"/>
<text x="269.8" y="854.2" text-anchor="middle" font-size="57px" font-weight="900" fill="#161616" stroke="#161616" stroke-width="0.9" stroke-linejoin="round" style="font-family:'Liberation Sans','Noto Sans CJK SC','Noto Sans CJK JP',sans-serif">周</text>
<rect x="112.9" y="864.6" width="58.3" height="61.2" fill="#f4f4f4"/>
<text x="142.1" y="918.8" text-anchor="middle" font-size="57px" font-weight="900" fill="#161616" stroke="#161616" stroke-width="0.9" stroke-linejoin="round" style="font-family:'Liberation Sans','Noto Sans CJK SC','Noto Sans CJK JP',sans-serif">陵</text>
<rect x="174.6" y="864.6" width="62.2" height="61.2" fill="#f4f4f4"/>
<text x="205.7" y="918.8" text-anchor="middle" font-size="57px" font-weight="900" fill="#161616" stroke="#161616" stroke-width="0.9" stroke-linejoin="round" style="font-family:'Liberation Sans','Noto Sans CJK SC','Noto Sans CJK JP',sans-serif">皇</text>
<rect x="240.3" y="864.6" width="59.0" height="61.2" fill="#f4f4f4"/>
<text x="269.8" y="918.8" text-anchor="middle" font-size="57px" font-weight="900" fill="#161616" stroke="#161616" stroke-width="0.9" stroke-linejoin="round" style="font-family:'Liberation Sans','Noto Sans CJK SC','Noto Sans CJK JP',sans-serif">高</text>
<g clip-path="url(#dclip)"><rect x="112.9" y="738.5" width="186.4" height="187.3" filter="url(#speck2)" opacity="0.5"/></g>
<defs><linearGradient id="xg" x1="0" y1="0" x2="0" y2="1"><stop offset="0" stop-color="#0c45a6"/><stop offset="1" stop-color="#0a348a"/></linearGradient><clipPath id="xc"><rect x="853.9" y="935.9" width="60.6" height="60.2" rx="9" ry="9"/></clipPath></defs>
<rect x="853.9" y="935.9" width="60.6" height="60.2" rx="9" ry="9" fill="url(#xg)"/>
<text x="884.2" y="958.6" text-anchor="middle" font-size="16px" font-weight="500" fill="#fff" textLength="48.5" lengthAdjust="spacingAndGlyphs" style="font-family:'Liberation Sans','Noto Sans CJK SC',sans-serif">新华社</text>
<text x="884.2" y="967.6" text-anchor="middle" font-size="5.9px" font-weight="bold" fill="#fff" textLength="48" lengthAdjust="spacingAndGlyphs" style="font-family:'Liberation Serif',serif">XINHUA NEWS</text>
<g clip-path="url(#xc)" stroke="#fff" stroke-width="0.45" opacity="0.95">
<line x1="876.0" y1="977.2" x2="892.3" y2="977.2"/>
<line x1="876.0" y1="977.2" x2="884.0" y2="980.4"/>
<line x1="892.3" y1="977.2" x2="884.0" y2="980.4"/>
<line x1="876.0" y1="977.2" x2="861.6" y2="985.4"/>
<line x1="876.0" y1="977.2" x2="872.7" y2="985.4"/>
<line x1="892.3" y1="977.2" x2="895.2" y2="985.4"/>
<line x1="892.3" y1="977.2" x2="906.4" y2="985.4"/>
<line x1="884.0" y1="980.4" x2="872.7" y2="985.4"/>
<line x1="884.0" y1="980.4" x2="895.2" y2="985.4"/>
<line x1="884.0" y1="980.4" x2="884.0" y2="992.0"/>
<line x1="861.6" y1="985.4" x2="872.7" y2="985.4"/>
<line x1="872.7" y1="985.4" x2="895.2" y2="985.4"/>
<line x1="895.2" y1="985.4" x2="906.4" y2="985.4"/>
<line x1="861.6" y1="985.4" x2="860.1" y2="992.0"/>
<line x1="872.7" y1="985.4" x2="860.1" y2="992.0"/>
<line x1="872.7" y1="985.4" x2="884.0" y2="992.0"/>
<line x1="895.2" y1="985.4" x2="884.0" y2="992.0"/>
<line x1="895.2" y1="985.4" x2="907.9" y2="992.0"/>
<line x1="906.4" y1="985.4" x2="907.9" y2="992.0"/>
<line x1="860.1" y1="992.0" x2="884.0" y2="992.0"/>
<line x1="884.0" y1="992.0" x2="907.9" y2="992.0"/>
<line x1="860.1" y1="992.0" x2="855.1" y2="999.5"/>
<line x1="860.1" y1="992.0" x2="869.2" y2="999.5"/>
<line x1="884.0" y1="992.0" x2="873.2" y2="999.5"/>
<line x1="884.0" y1="992.0" x2="894.3" y2="999.5"/>
<line x1="907.9" y1="992.0" x2="900.4" y2="999.5"/>
<line x1="907.9" y1="992.0" x2="913.5" y2="999.5"/>
<line x1="872.7" y1="985.4" x2="869.2" y2="999.5"/>
<line x1="895.2" y1="985.4" x2="900.4" y2="999.5"/>
<circle cx="876.0" cy="977.2" r="1.1" fill="#fff" stroke="none"/>
<circle cx="892.3" cy="977.2" r="1.1" fill="#fff" stroke="none"/>
<circle cx="884.0" cy="980.4" r="1.6" fill="#fff" stroke="none"/>
<circle cx="861.6" cy="985.4" r="1.1" fill="#fff" stroke="none"/>
<circle cx="872.7" cy="985.4" r="1.6" fill="#fff" stroke="none"/>
<circle cx="895.2" cy="985.4" r="1.6" fill="#fff" stroke="none"/>
<circle cx="906.4" cy="985.4" r="1.1" fill="#fff" stroke="none"/>
<circle cx="860.1" cy="992.0" r="1.6" fill="#fff" stroke="none"/>
<circle cx="884.0" cy="992.0" r="1.6" fill="#fff" stroke="none"/>
<circle cx="907.9" cy="992.0" r="1.6" fill="#fff" stroke="none"/>
</g>
</svg></body></html>
